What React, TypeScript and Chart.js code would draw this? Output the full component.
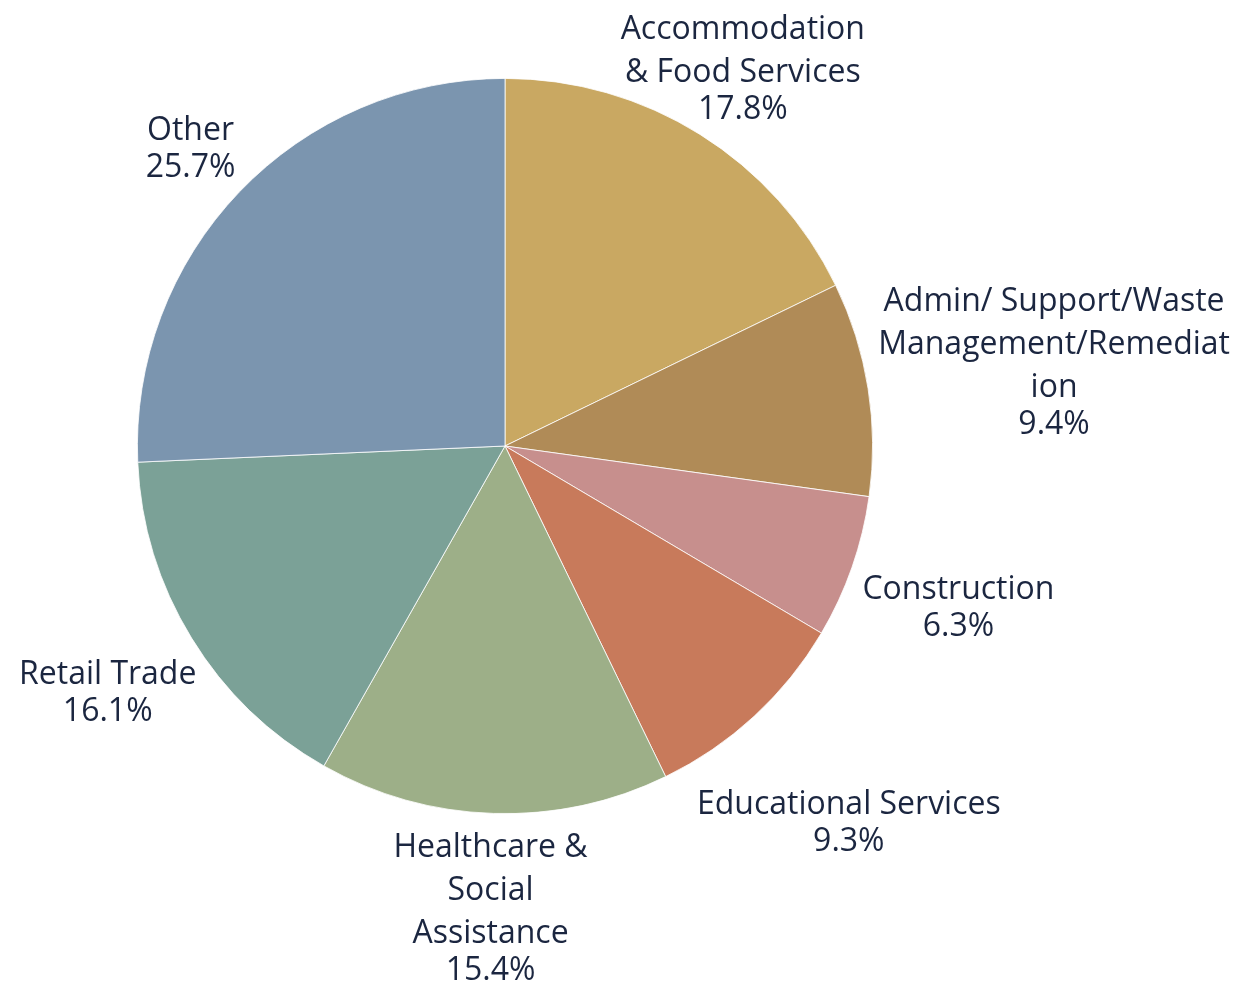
import React, { useEffect, useRef } from "react";
import { Chart, registerables } from "chart.js";

Chart.register(...registerables);

const categories: string[] = [
  "Accommodation\n& Food Services",
  "Admin/ Support/Waste\nManagement/Remediat\nion",
  "Construction",
  "Educational Services",
  "Healthcare &\nSocial\nAssistance",
  "Retail Trade",
  "Other",
];

const shares: number[] = [17.8, 9.4, 6.3, 9.3, 15.4, 16.1, 25.7];

const sliceColors: string[] = [
  "#C9A862",
  "#B08B57",
  "#C78F8D",
  "#C87A5B",
  "#9DAF88",
  "#7BA197",
  "#7B95AF",
];

const W = 1249;
const H = 983;
const FONT = "32px 'Open Sans'";
const TEXT_COLOR = "#1B2640";
const NAME_GAP = 43;
const PCT_GAP = 37;
const LINE_BOX = 36;
const PAD = 10;
const TEXT_SHIFT = 4;
const EDGE_MARGIN = 19;

const outsideLabels = {
  id: "outsideLabels",
  afterDraw(chart: any) {
    const ctx = chart.ctx as CanvasRenderingContext2D;
    const meta = chart.getDatasetMeta(0);
    ctx.save();
    ctx.font = FONT;
    ctx.fillStyle = TEXT_COLOR;
    ctx.textAlign = "center";
    ctx.textBaseline = "middle";
    meta.data.forEach((arc: any, i: number) => {
      const p = arc.getProps(["x", "y", "startAngle", "endAngle", "outerRadius"], true);
      const mid = (p.startAngle + p.endAngle) / 2;
      const ux = Math.cos(mid);
      const uy = Math.sin(mid);
      const nameLines = categories[i].split("\n");
      const pct = shares[i].toFixed(1) + "%";
      const widths = [...nameLines, pct].map((s) => ctx.measureText(s).width);
      const halfW = Math.max(...widths) / 2;
      const totalH = LINE_BOX / 2 + (nameLines.length - 1) * NAME_GAP + PCT_GAP + LINE_BOX / 2;
      const halfH = totalH / 2;
      let dist = p.outerRadius + PAD + Math.abs(ux) * halfW + Math.abs(uy) * halfH;
      // keep the label box inside the canvas by sliding it back along its ray
      const minTop = 8;
      const maxRight = W - EDGE_MARGIN;
      const minLeft = EDGE_MARGIN;
      if (uy < 0 && p.y + dist * uy - halfH < minTop) {
        dist = (minTop + halfH - p.y) / uy;
      }
      if (ux > 0 && p.x + dist * ux + halfW > maxRight) {
        dist = (maxRight - halfW - p.x) / ux;
      }
      if (ux < 0 && p.x + dist * ux - halfW < minLeft) {
        dist = (minLeft + halfW - p.x) / ux;
      }
      const cx = p.x + dist * ux;
      const cy = p.y + dist * uy;
      let y = cy - halfH + LINE_BOX / 2 + TEXT_SHIFT;
      nameLines.forEach((line, k) => {
        if (k > 0) y += NAME_GAP;
        ctx.fillText(line, cx, y);
      });
      y += PCT_GAP;
      ctx.fillText(pct, cx, y);
    });
    ctx.restore();
  },
};

export default function App() {
  const ref = useRef<HTMLCanvasElement | null>(null);
  useEffect(() => {
    document.body.style.margin = "0";
    const canvas = ref.current;
    if (!canvas) return;
    const chart = new Chart(canvas, {
      type: "pie",
      data: {
        labels: categories,
        datasets: [
          {
            data: shares,
            backgroundColor: sliceColors,
            borderColor: "#ffffff",
            borderWidth: 0.8,
          },
        ],
      },
      options: {
        responsive: false,
        animation: false,
        layout: { padding: { left: 137, right: 376, top: 78, bottom: 169 } },
        plugins: {
          legend: { display: false },
          tooltip: { enabled: false },
        },
      },
      plugins: [outsideLabels],
    });
    return () => chart.destroy();
  }, []);
  return (
    <div style={{ position: "fixed", left: 0, top: 0, width: W, height: H, background: "#ffffff" }}>
      <canvas ref={ref} width={W} height={H} style={{ width: W, height: H, display: "block" }} />
    </div>
  );
}
